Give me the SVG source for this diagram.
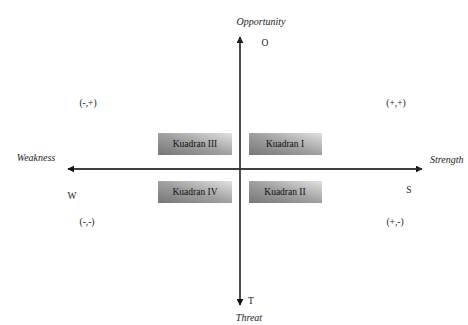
<svg xmlns="http://www.w3.org/2000/svg" width="468" height="325" viewBox="0 0 468 325">
<style>
text{font-family:"Liberation Serif","DejaVu Serif",serif;fill:#222;font-size:9.5px}
.it{font-style:italic;font-size:10px}
.axis{stroke:#333;stroke-width:1.3;fill:none}
.box{fill:url(#g)}
.kl{font-size:9.5px;fill:#111;text-anchor:middle}
</style>
<defs>
<linearGradient id="g" x1="0" y1="1" x2="1" y2="0">
<stop offset="0" stop-color="#767676"/>
<stop offset="0.5" stop-color="#a0a0a0"/>
<stop offset="1" stop-color="#e2e2e2"/>
</linearGradient>
<marker id="ah" viewBox="0 0 10 10" refX="9" refY="5" markerWidth="7" markerHeight="7" orient="auto" markerUnits="userSpaceOnUse">
<path d="M0,0 L10,5 L0,10 z" fill="#111"/>
</marker>
</defs>
<g id="connectors">
<line class="axis" x1="240" y1="305" x2="240" y2="37" marker-end="url(#ah)"/>
<line class="axis" x1="240" y1="37" x2="240" y2="305" marker-end="url(#ah)"/>
<line class="axis" x1="68" y1="169" x2="422" y2="169" marker-end="url(#ah)"/>
<line class="axis" x1="422" y1="169" x2="68" y2="169" marker-end="url(#ah)"/>
</g>
<g id="opportunity"><text class="it" x="261" y="25" text-anchor="middle">Opportunity</text><text x="265" y="46" text-anchor="middle" font-size="10">O</text></g>
<g id="threat"><text class="it" x="249" y="321" text-anchor="middle">Threat</text><text x="251" y="304" text-anchor="middle" font-size="10">T</text></g>
<g id="weakness"><text class="it" x="36" y="161" text-anchor="middle">Weakness</text><text x="72" y="199" text-anchor="middle" font-size="10">W</text></g>
<g id="strength"><text class="it" x="430" y="163">Strength</text><text x="409" y="193" text-anchor="middle" font-size="10">S</text></g>
<g id="q3"><rect class="box" x="158" y="133" width="74" height="22"/><text class="kl" x="195" y="147">Kuadran III</text></g>
<g id="q1"><rect class="box" x="249" y="133" width="73" height="22"/><text class="kl" x="285" y="147">Kuadran I</text></g>
<g id="q4"><rect class="box" x="158" y="181" width="74" height="22"/><text class="kl" x="195" y="195">Kuadran IV</text></g>
<g id="q2"><rect class="box" x="249" y="181" width="73" height="22"/><text class="kl" x="285" y="195">Kuadran II</text></g>
<g id="l1"><text x="88" y="106" text-anchor="middle">(-,+)</text></g>
<g id="l2"><text x="396" y="106" text-anchor="middle">(+,+)</text></g>
<g id="l3"><text x="87" y="225" text-anchor="middle">(-,-)</text></g>
<g id="l4"><text x="395" y="225" text-anchor="middle">(+,-)</text></g>
</svg>
